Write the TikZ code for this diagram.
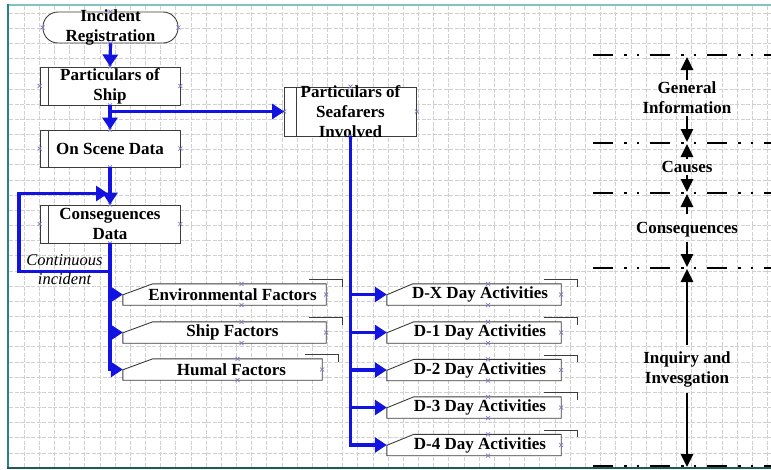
\documentclass[tikz,border=0pt]{standalone}
\usepackage{fontspec}
\setmainfont{Liberation Serif}
\usetikzlibrary{arrows.meta,calc}
\pgfdeclarelayer{gridl}
\pgfdeclarelayer{shapesl}
\pgfsetlayers{gridl,shapesl,main}
\definecolor{cblue}{RGB}{18,18,225}
\definecolor{boxc}{RGB}{60,60,60}
\definecolor{gridc}{RGB}{208,208,208}
\definecolor{markc}{RGB}{125,125,195}
\definecolor{frtop}{RGB}{130,195,195}
\definecolor{frleft}{RGB}{40,130,130}
\definecolor{frbot}{RGB}{30,90,90}
\tikzset{
  bt/.style={font=\fontsize{17}{20}\selectfont\bfseries, align=center, inner sep=0pt},
  it/.style={font=\fontsize{16.5}{19}\selectfont\itshape, align=center, inner sep=0pt},
  boxline/.style={draw=boxc, line width=0.9pt},
  term/.style={boxline, fill=white, rounded corners=15pt, minimum width=135pt, minimum height=31pt, inner sep=0pt},
  proc/.style={boxline, fill=white, minimum width=140pt, inner sep=0pt},
  fshape/.style={minimum height=21pt, inner sep=0pt},
  bc/.style={draw=cblue, line width=3.2pt, -{Triangle[length=12pt,width=15pt]}},
  barr/.style={draw=black, line width=2.6pt, -{Triangle[length=13pt,width=12pt]}},
  ddl/.style={draw=black, line width=2.8pt, dash pattern=on 20pt off 11pt on 2.5pt off 10pt on 2.5pt off 11pt},
  gridline/.style={draw=gridc, line width=0.6pt, dash pattern=on 4pt off 1.5pt},
  mk/.style={draw=markc, line width=0.7pt}
}
\begin{document}
\begin{tikzpicture}[x=1pt,y=-1pt]
\useasboundingbox (0,0) rectangle (771,469);
\begin{pgfonlayer}{gridl}
  \fill[white] (0,0) rectangle (771,469);
  \foreach \i in {0,...,49} \draw[gridline] ({24+15.17*\i},6) -- ({24+15.17*\i},467);
  \foreach \j in {0,...,29} \draw[gridline] (9,{13+15.17*\j}) -- (771,{13+15.17*\j});
  \draw[frtop, line width=2pt] (8,5) -- (771,5);
  \draw[frleft, line width=2pt] (8,4) -- (8,469);
  \draw[frbot, line width=2.4pt] (7,468) -- (771,468);
\end{pgfonlayer}

% left column
\node[term] (inc) at (110.5,27.5) [label={[bt]center:{Incident\\Registration}}] {};
\node[proc, minimum height=38pt] (ship) at (110,86) [label={[bt]center:{Particulars of\\Ship}}] {};
\node[proc, minimum height=37pt] (scene) at (110,148.5) [label={[bt]center:{On Scene Data}}] {};
\node[proc, minimum height=38pt] (conseq) at (110,224) [label={[bt]center:{Conseguences\\Data}}] {};
\node[proc, minimum width=132pt, minimum height=49pt] (seaf) at (350.5,111.5) [label={[bt]center:{Particulars of\\Seafarers\\Involved}}] {};
\draw[boxline] ($(ship.north west)+(9,0)$) -- ($(ship.south west)+(9,0)$);
\draw[boxline] ($(scene.north west)+(9,0)$) -- ($(scene.south west)+(9,0)$);
\draw[boxline] ($(conseq.north west)+(9,0)$) -- ($(conseq.south west)+(9,0)$);
\draw[boxline] ($(seaf.north west)+(12,0)$) -- ($(seaf.south west)+(12,0)$);

% factor shapes
\node[fshape, minimum width=203pt] (env) at (224.5,294.5) [label={[bt,xshift=8pt]center:Environmental Factors}] {};
\node[fshape, minimum width=203pt] (shipf) at (224.5,332.5) [label={[bt,xshift=8pt]center:Ship Factors}] {};
\node[fshape, minimum width=199pt] (human) at (222.5,369.5) [label={[bt,xshift=9pt]center:Humal Factors}] {};
\node[fshape, minimum width=174pt] (dx) at (474,294.5) [label={[bt,xshift=6pt]center:D-X Day Activities}] {};
\node[fshape, minimum width=174pt] (d1) at (474,332.5) [label={[bt,xshift=6pt]center:D-1 Day Activities}] {};
\node[fshape, minimum width=174pt] (d2) at (474,370) [label={[bt,xshift=6pt]center:D-2 Day Activities}] {};
\node[fshape, minimum width=174pt] (d3) at (474,407.5) [label={[bt,xshift=6pt]center:D-3 Day Activities}] {};
\node[fshape, minimum width=174pt] (d4) at (474,445) [label={[bt,xshift=6pt]center:D-4 Day Activities}] {};
\begin{pgfonlayer}{shapesl}
\foreach \n/\s in {env/30,shipf/30,human/30,dx/26,d1/27,d2/27,d3/27,d4/27}{
  \draw[boxline, fill=white] (\n.south west) -- ($(\n.north west)+(0,11)$) -- ($(\n.north west)+(\s,0)$) -- (\n.north east) -- (\n.south east) -- cycle;
  \draw[boxline] ($(\n.north east)+(-17,-4)$) -- ($(\n.north east)+(16,-4)$) -- ($(\n.north east)+(16,3)$);
}
\end{pgfonlayer}

% connection point marks
\foreach \n in {inc,ship,scene,conseq,seaf}{
  \foreach \a in {north,south,east,west}{
    \draw[mk] ($(\n.\a)+(-2,-2)$) -- ++(4,4) ($(\n.\a)+(-2,2)$) -- ++(4,-4);
  }
}
\foreach \n/\o in {env/17,shipf/17,human/15,dx/14,d1/14,d2/14,d3/14,d4/14}{
  \draw[mk] ($(\n.north)+(\o,0)+(-2,-2)$) -- ++(4,4) ($(\n.north)+(\o,0)+(-2,2)$) -- ++(4,-4);
  \draw[mk] ($(\n.south)+(\o,0)+(-2,-2)$) -- ++(4,4) ($(\n.south)+(\o,0)+(-2,2)$) -- ++(4,-4);
  \draw[mk] ($(\n.east)+(-2,-2)$) -- ++(4,4) ($(\n.east)+(-2,2)$) -- ++(4,-4);
}

% blue connectors
\draw[bc] (inc.south) -- (ship.north);
\draw[bc] (ship.south) -- (scene.north);
\draw[bc] (ship.south |- seaf.west) -- (seaf.west);
\draw[bc] (scene.south) -- (conseq.north);
\coordinate (lp) at ($(conseq.south)+(0,28)$);
\coordinate (loopx) at (19,230);
\coordinate (ctop) at ($(conseq.north)+(-2,-11)$);
\draw[bc] (lp) -- (lp -| loopx) |- (ctop);
\node[it] (cont) at (64.5,270) {Continuous\\incident};
\draw[bc] (conseq.south) |- (human.west);
\draw[bc] (conseq.south |- env.west) -- (env.west);
\draw[bc] (conseq.south |- shipf.west) -- (shipf.west);
\draw[bc] (seaf.south) |- (d4.west);
\foreach \n in {dx,d1,d2,d3}{
  \draw[bc] (seaf.south |- \n.west) -- (\n.west);
}

% right side
\foreach \y in {55,143,193,268,466}{
  \draw[ddl] (593,\y) -- (771,\y);
}
\coordinate (L1) at (687,56);
\coordinate (L2) at (687,143);
\coordinate (L3) at (687,193);
\coordinate (L4) at (687,268);
\coordinate (L5) at (687,467);
\node[bt, inner sep=2pt] (gi) at (687,98) {General\\Information};
\node[bt, inner sep=2pt] (causes) at (687,167) {Causes};
\node[bt, inner sep=2pt] (cons) at (687,230) {Consequences};
\node[bt, inner sep=2pt] (inq) at (687,369) {Inquiry and\\Invesgation};
\draw[barr] (gi.north) -- ($(L1)+(0,1)$);
\draw[barr] (gi.south) -- ($(L2)+(0,-1)$);
\draw[barr] (causes.north) -- ($(L2)+(0,1)$);
\draw[barr] (causes.south) -- ($(L3)+(0,-1)$);
\draw[barr] ($(cons.north)+(0,-6)$) -- ($(L3)+(0,1)$);
\draw[barr] ($(cons.south)+(0,2)$) -- ($(L4)+(0,-1)$);
\draw[barr] ($(inq.north)+(0,-4)$) -- ($(L4)+(0,1)$);
\draw[barr] ($(inq.south)+(0,4)$) -- (L5);
\end{tikzpicture}
\end{document}
